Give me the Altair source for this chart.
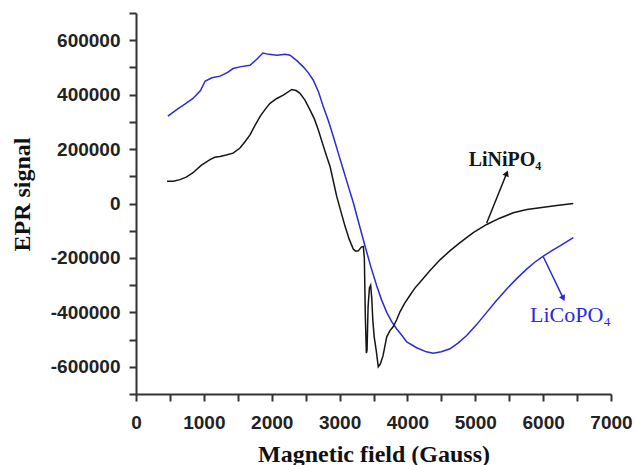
import altair as alt
import pandas as pd

# ---- data ----
ni_field = [457, 550, 648, 740, 840, 960, 1090, 1160, 1238, 1330, 1430, 1532, 1600, 1680,
            1750, 1827, 1900, 1975, 2070, 2170, 2297, 2360, 2417, 2490, 2564, 2630, 2687,
            2750, 2810, 2860, 2910, 2957, 3020, 3080, 3140, 3203, 3240, 3277, 3320, 3350,
            3365, 3380, 3395, 3405, 3420, 3440, 3458, 3475, 3490, 3510, 3540, 3570, 3600,
            3640, 3695, 3743, 3792, 3840, 3890, 3960, 4038, 4110, 4185, 4330, 4480, 4630,
            4775, 4970, 5168, 5360, 5560, 5760, 5953, 6200, 6444]
ni_signal = [81600, 82000, 87700, 97000, 113000, 140000, 161000, 170000, 173000, 178000,
             185000, 204000, 225000, 252000, 285000, 319000, 345000, 368000, 385000, 398000,
             419000, 415000, 405000, 380000, 344000, 310000, 270000, 220000, 173000, 136000,
             80000, 27000, -30000, -83000, -130000, -168000, -175000, -174000, -160000,
             -158000, -200000, -420000, -550000, -540000, -380000, -310000, -300000,
             -350000, -430000, -490000, -540000, -600000, -590000, -560000, -490000,
             -467000, -452000, -428000, -398000, -366000, -337000, -311000, -289000,
             -247000, -207000, -173000, -144000, -107000, -77000, -54000, -34000, -22000,
             -15700, -7000, 0]

co_field = [470, 600, 720, 840, 950, 1020, 1120, 1240, 1350, 1430, 1550, 1680, 1780, 1870,
            1960, 2080, 2200, 2270, 2370, 2465, 2540, 2613, 2690, 2760, 2840, 2908, 2980,
            3055, 3130, 3203, 3290, 3375, 3460, 3547, 3620, 3695, 3770, 3842, 3920, 3990,
            4136, 4280, 4380, 4500, 4627, 4750, 4873, 5020, 5168, 5310, 5463, 5610, 5757,
            5880, 6003, 6130, 6248, 6350, 6444]
co_signal = [321000, 345000, 365000, 386000, 415000, 450000, 462000, 468000, 482000, 496000,
             503000, 508000, 530000, 553000, 548000, 545000, 548000, 545000, 525000, 502000,
             480000, 453000, 410000, 356000, 300000, 246000, 186000, 124000, 62000, 2500,
             -78000, -156000, -232000, -302000, -355000, -400000, -435000, -461000, -485000,
             -509000, -530000, -545000, -550000, -545000, -534000, -512000, -485000,
             -445000, -400000, -357000, -314000, -276000, -241000, -215000, -193000,
             -173000, -156000, -140000, -125000]

x_tick_values = [0, 500, 1000, 1500, 2000, 2500, 3000, 3500, 4000, 4500, 5000, 5500,
                 6000, 6500, 7000]
y_tick_values = [-700000, -600000, -500000, -400000, -300000, -200000, -100000, 0,
                 100000, 200000, 300000, 400000, 500000, 600000, 700000]

label_names = ["LiNiPO\u2084", "LiCoPO\u2084"]
label_field = [5438, 6403]
label_signal = [160000, -410000]
arrow_tail_field = [5168, 6002]
arrow_tail_signal = [-71700, -195500]
arrow_head_field = [5463, 6297]
arrow_head_signal = [111000, -348400]

BLUE = "#2a2ad8"
BLACK = "#151515"

ni_df = pd.DataFrame({"field": ni_field, "signal": ni_signal})
co_df = pd.DataFrame({"field": co_field, "signal": co_signal})

x_scale = alt.Scale(domain=[0, 7000], nice=False, zero=False)
y_scale = alt.Scale(domain=[-700000, 700000], nice=False, zero=False)

x_axis = alt.Axis(
    values=x_tick_values,
    labelExpr="datum.value % 1000 == 0 ? '' + datum.value : ''",
    grid=False, tickSize=7, domainWidth=2, tickWidth=2,
    domainColor="#333333", tickColor="#333333",
    labelFont="Liberation Sans", labelFontSize=19, labelFontWeight="bold",
    labelColor="#222222", labelPadding=12, labelFlush=False, labelOverlap=False,
    titleFont="Liberation Serif", titleFontSize=24, titleFontWeight="bold",
    titleColor="#111111", titleBaseline="alphabetic", titleY=67,
)
y_axis = alt.Axis(
    values=y_tick_values,
    labelExpr="datum.value % 200000 == 0 ? '' + datum.value : ''",
    grid=False, tickSize=7, domainWidth=2, tickWidth=2,
    domainColor="#333333", tickColor="#333333",
    labelFont="Liberation Sans", labelFontSize=19, labelFontWeight="bold",
    labelColor="#222222", labelPadding=9, labelFlush=False, labelOverlap=False,
    titleFont="Liberation Serif", titleFontSize=24, titleFontWeight="bold",
    titleColor="#111111", titleBaseline="alphabetic", titleX=-107, titleY=181,
)

X_TITLE = "Magnetic field (Gauss)"
Y_TITLE = "EPR signal"


def xenc(f="field"):
    return alt.X(f"{f}:Q", scale=x_scale, axis=x_axis, title=X_TITLE)


def yenc(f="signal"):
    return alt.Y(f"{f}:Q", scale=y_scale, axis=y_axis, title=Y_TITLE)


co_line = alt.Chart(co_df).mark_line(color=BLUE, strokeWidth=1.5).encode(
    x=xenc(), y=yenc())
ni_line = alt.Chart(ni_df).mark_line(color=BLACK, strokeWidth=1.5).encode(
    x=xenc(), y=yenc())

ann = pd.DataFrame({
    "name": label_names,
    "field": label_field,
    "signal": label_signal,
    "tail_f": arrow_tail_field,
    "tail_s": arrow_tail_signal,
    "head_f": arrow_head_field,
    "head_s": arrow_head_signal,
})
ann_ni = ann.iloc[[0]]
ann_co = ann.iloc[[1]]

ni_rule = alt.Chart(ann_ni).mark_rule(color=BLACK, strokeWidth=1.5).encode(
    x=xenc("tail_f"), y=yenc("tail_s"), x2="head_f:Q", y2="head_s:Q")
co_rule = alt.Chart(ann_co).mark_rule(color=BLUE, strokeWidth=1.5).encode(
    x=xenc("tail_f"), y=yenc("tail_s"), x2="head_f:Q", y2="head_s:Q")

ni_head = alt.Chart(ann_ni).mark_point(
    shape="triangle-up", filled=True, size=45, color=BLACK, opacity=1, angle=22
).encode(x=xenc("head_f"), y=yenc("head_s"))
co_head = alt.Chart(ann_co).mark_point(
    shape="triangle-up", filled=True, size=45, color=BLUE, opacity=1, angle=154
).encode(x=xenc("head_f"), y=yenc("head_s"))

ni_text = alt.Chart(ann_ni).mark_text(
    font="Liberation Serif", fontSize=20, fontWeight="bold", color=BLACK,
    align="center", baseline="middle"
).encode(x=xenc(), y=yenc(), text="name:N")
co_text = alt.Chart(ann_co).mark_text(
    font="Liberation Serif", fontSize=22, color=BLUE,
    align="center", baseline="middle"
).encode(x=xenc(), y=yenc(), text="name:N")

chart = alt.layer(
    co_line, ni_line, ni_rule, co_rule, ni_head, co_head, ni_text, co_text
).properties(
    width=475, height=381,
    autosize=alt.AutoSizeParams(type="none"),
    padding={"left": 136, "top": 13, "right": 25, "bottom": 71},
    background="white",
).configure_view(stroke=None)

chart.save("out.html", embed_options={"renderer": "svg", "actions": False})
